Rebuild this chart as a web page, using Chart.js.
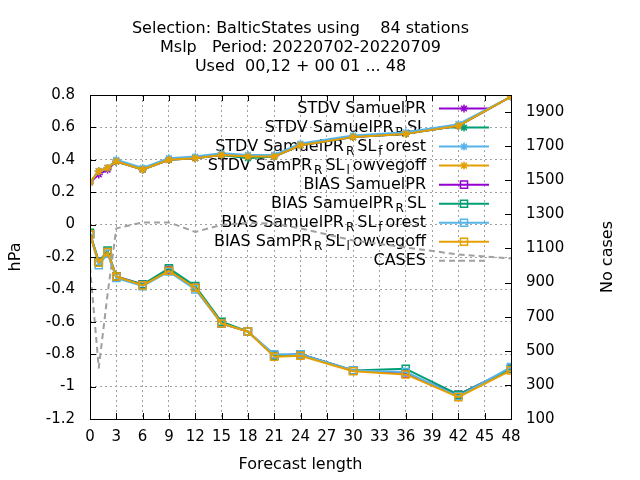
<!DOCTYPE html>
<html>
<head>
<meta charset="utf-8">
<title>Mslp BalticStates</title>
<script src="https://cdn.jsdelivr.net/npm/chart.js@4.4.1/dist/chart.umd.min.js"></script>
<style>
  html, body { margin: 0; padding: 0; background: #fff; }
  canvas { display: block; }
</style>
</head>
<body>
<canvas id="chart" width="640" height="480"></canvas>
<script>
// forecast lengths (hours)
const leadTimes = [0, 1, 2, 3, 6, 9, 12, 15, 18, 21, 24, 30, 36, 42, 48];

// STDV (hPa)
const stdvSamuel       = [0.26, 0.31, 0.34, 0.39, 0.34, 0.40, 0.41, 0.43, 0.42, 0.42, 0.49, 0.54, 0.56, 0.61, 0.79];
const stdvSamuelRsl    = [0.26, 0.33, 0.35, 0.39, 0.34, 0.40, 0.41, 0.43, 0.41, 0.42, 0.49, 0.54, 0.56, 0.61, 0.79];
const stdvSamuelForest = [0.26, 0.33, 0.35, 0.40, 0.35, 0.41, 0.42, 0.44, 0.43, 0.43, 0.50, 0.55, 0.57, 0.62, 0.79];
const stdvSamLowveg    = [0.26, 0.33, 0.35, 0.39, 0.34, 0.40, 0.41, 0.43, 0.42, 0.42, 0.49, 0.54, 0.56, 0.61, 0.79];

// BIAS (hPa)
const biasSamuel       = [-0.06, -0.23, -0.17, -0.32, -0.37, -0.28, -0.39, -0.61, -0.66, -0.81, -0.80, -0.90, -0.92, -1.05, -0.89];
const biasSamuelRsl    = [-0.05, -0.23, -0.16, -0.32, -0.37, -0.27, -0.38, -0.60, -0.66, -0.81, -0.80, -0.90, -0.89, -1.05, -0.89];
const biasSamuelForest = [-0.06, -0.25, -0.18, -0.33, -0.38, -0.29, -0.40, -0.61, -0.66, -0.80, -0.80, -0.90, -0.91, -1.06, -0.88];
const biasSamLowveg    = [-0.06, -0.235, -0.17, -0.32, -0.375, -0.285, -0.39, -0.61, -0.66, -0.815, -0.81, -0.905, -0.925, -1.065, -0.90];

// number of cases (right axis)
const cases = [990, 400, 830, 1218, 1253, 1253, 1197, 1238, 1250, 1245, 1218, 1147, 1106, 1065, 1041];

// tick values
const xTickValues = [0, 3, 6, 9, 12, 15, 18, 21, 24, 27, 30, 33, 36, 39, 42, 45, 48];
const leftTickValues = [-1.2, -1, -0.8, -0.6, -0.4, -0.2, 0, 0.2, 0.4, 0.6, 0.8];
const rightTickValues = [100, 300, 500, 700, 900, 1100, 1300, 1500, 1700, 1900];

const titleLines = [
  'Selection: BalticStates using    84 stations',
  'Mslp   Period: 20220702-20220709',
  'Used  00,12 + 00 01 ... 48'
];

const FONT = 'DejaVu Sans';
const PURPLE = '#9400d3', GREEN = '#009e73', BLUE = '#56b4e9', ORANGE = '#e69f00', GREY = '#a0a0a0';

// label text uses gnuplot style subscripts: _{x}
const series = [
  { label: 'STDV SamuelPR',                values: stdvSamuel,       color: PURPLE, style: 'star' },
  { label: 'STDV SamuelPR_{R}SL',          values: stdvSamuelRsl,    color: GREEN,  style: 'star' },
  { label: 'STDV SamuelPR_{R}SL_{f}orest', values: stdvSamuelForest, color: BLUE,   style: 'star' },
  { label: 'STDV SamPR_{R}SL_{l}owvegoff', values: stdvSamLowveg,    color: ORANGE, style: 'star' },
  { label: 'BIAS SamuelPR',                values: biasSamuel,       color: PURPLE, style: 'rect' },
  { label: 'BIAS SamuelPR_{R}SL',          values: biasSamuelRsl,    color: GREEN,  style: 'rect' },
  { label: 'BIAS SamuelPR_{R}SL_{f}orest', values: biasSamuelForest, color: BLUE,   style: 'rect' },
  { label: 'BIAS SamPR_{R}SL_{l}owvegoff', values: biasSamLowveg,    color: ORANGE, style: 'rect' },
  { label: 'CASES',                        values: cases,            color: GREY,   style: false, axis: 'y1', dash: [6, 4] }
];

function pointRadius(style) {
  if (style === 'star') return 4;
  if (style === 'rect') return 5;
  return 0;
}

const datasets = series.map((s, i) => ({
  label: s.label.replace(/_\{([^}]*)\}/g, '$1'),
  data: leadTimes.map((h, j) => ({ x: h, y: s.values[j] })),
  yAxisID: s.axis || 'y',
  borderColor: s.color,
  borderWidth: 2,
  borderDash: s.dash || [],
  borderJoinStyle: 'round',
  pointStyle: s.style,
  pointRadius: pointRadius(s.style),
  pointBorderColor: s.color,
  pointBackgroundColor: 'rgba(0,0,0,0)',
  pointBorderWidth: 1.5,
  tension: 0,
  order: series.length - i   // gnuplot draws later plots on top
}));

function fmtLeft(v) {
  const r = Math.round(v * 10) / 10;
  return r === 0 ? '0' : String(r);
}

// legend drawn like gnuplot's key, text right-aligned inside the plot
function drawLabel(ctx, text, xRight, baseline) {
  const parts = text.split(/_\{([^}]*)\}/);
  const mainFont = '16px "' + FONT + '"';
  const subFont = '12px "' + FONT + '"';
  const pieces = [];
  let total = 0;
  parts.forEach((p, k) => {
    if (!p) return;
    const isSub = k % 2 === 1;
    ctx.font = isSub ? subFont : mainFont;
    const w = ctx.measureText(p).width;
    const gapBefore = isSub ? 2 : 0;
    const gapAfter = isSub ? 3 : 0;
    pieces.push({ p, isSub, w, gapBefore });
    total += w + gapBefore + gapAfter;
  });
  let x = xRight - total;
  ctx.textAlign = 'left';
  ctx.textBaseline = 'alphabetic';
  ctx.fillStyle = '#000';
  pieces.forEach(pc => {
    x += pc.gapBefore;
    ctx.font = pc.isSub ? subFont : mainFont;
    ctx.fillText(pc.p, x, baseline + (pc.isSub ? 4 : 0));
    x += pc.w + (pc.isSub ? 3 : 0);
  });
}

const gnuplotLook = {
  id: 'gnuplotLook',
  beforeDatasetsDraw(chart) {
    const ctx = chart.ctx;
    ctx.save();
    series.forEach((s, i) => {
      const base = 113 + i * 19.04;
      const yLine = base - 4.5;
      drawLabel(ctx, s.label, 426, base);
      ctx.strokeStyle = s.color;
      ctx.lineWidth = 2;
      ctx.setLineDash(s.dash || []);
      ctx.beginPath();
      ctx.moveTo(439, yLine);
      ctx.lineTo(489, yLine);
      ctx.stroke();
      ctx.setLineDash([]);
      if (s.style) {
        ctx.fillStyle = 'rgba(0,0,0,0)';
        ctx.lineWidth = 1.5;
        Chart.helpers.drawPoint(ctx, { pointStyle: s.style, radius: pointRadius(s.style), borderWidth: 1.5, rotation: 0 }, 464, yLine);
      }
    });
    ctx.restore();
  },
  afterDraw(chart) {
    const ctx = chart.ctx;
    const a = chart.chartArea;
    const xs = chart.scales.x, ys = chart.scales.y, y1 = chart.scales.y1;
    ctx.save();
    // title
    ctx.fillStyle = '#000';
    ctx.font = '16px "' + FONT + '"';
    ctx.textAlign = 'center';
    ctx.textBaseline = 'alphabetic';
    const cx = (a.left + a.right) / 2;
    titleLines.forEach((t, i) => ctx.fillText(t, cx, 33 + i * 18.8));
    // right axis title, reads bottom to top
    ctx.save();
    ctx.translate(608, (a.top + a.bottom) / 2);
    ctx.rotate(-Math.PI / 2);
    ctx.textBaseline = 'middle';
    ctx.fillText('No cases', 0, 0);
    ctx.restore();
    // frame
    ctx.strokeStyle = '#000';
    ctx.lineWidth = 1;
    ctx.strokeRect(Math.round(a.left) + 0.5, Math.round(a.top) + 0.5, Math.round(a.right - a.left), Math.round(a.bottom - a.top));
    // inward tick marks
    const tl = 6;
    ctx.beginPath();
    xTickValues.forEach(v => {
      const px = Math.round(xs.getPixelForValue(v)) + 0.5;
      ctx.moveTo(px, a.bottom); ctx.lineTo(px, a.bottom - tl);
      ctx.moveTo(px, a.top); ctx.lineTo(px, a.top + tl);
    });
    leftTickValues.forEach(v => {
      const py = Math.round(ys.getPixelForValue(v)) + 0.5;
      ctx.moveTo(a.left, py); ctx.lineTo(a.left + tl, py);
    });
    rightTickValues.forEach(v => {
      const py = Math.round(y1.getPixelForValue(v)) + 0.5;
      ctx.moveTo(a.right, py); ctx.lineTo(a.right - tl, py);
    });
    ctx.stroke();
    ctx.restore();
  }
};

const tickFont = { family: FONT, size: 15 };
const labelFont = { family: FONT, size: 16 };

new Chart(document.getElementById('chart').getContext('2d'), {
  type: 'line',
  data: { datasets },
  options: {
    responsive: false,
    animation: false,
    devicePixelRatio: 1,
    layout: { padding: { top: 95, left: 0, right: 0, bottom: 0 } },
    plugins: {
      legend: { display: false },
      title: { display: false },
      tooltip: { enabled: false }
    },
    scales: {
      x: {
        type: 'linear',
        min: 0,
        max: 48,
        afterBuildTicks: s => { s.ticks = xTickValues.map(v => ({ value: v })); },
        afterFit: s => { s.height = 61; },
        ticks: { color: '#000', font: tickFont, padding: 9, maxRotation: 0, autoSkip: false },
        grid: { color: GREY, lineWidth: 1, drawTicks: false },
        border: { display: false, dash: [2, 3] },
        title: { display: true, text: 'Forecast length', color: '#000', font: labelFont, padding: { top: 0, bottom: 6 } }
      },
      y: {
        position: 'left',
        min: -1.2,
        max: 0.8,
        afterBuildTicks: s => { s.ticks = leftTickValues.map(v => ({ value: v })); },
        afterFit: s => { s.width = 90; },
        ticks: { color: '#000', font: tickFont, padding: 15, callback: v => fmtLeft(v) },
        grid: { color: GREY, lineWidth: 1, drawTicks: false },
        border: { display: false, dash: [2, 3] },
        title: { display: true, text: 'hPa', color: '#000', font: labelFont, padding: { top: 6, bottom: 0 } }
      },
      y1: {
        position: 'right',
        min: 100,
        max: 2000,
        afterBuildTicks: s => { s.ticks = rightTickValues.map(v => ({ value: v })); },
        afterFit: s => { s.width = 129; },
        ticks: { color: '#000', font: tickFont, padding: 15, callback: v => String(v) },
        grid: { display: false, drawTicks: false },
        border: { display: false }
      }
    }
  },
  plugins: [gnuplotLook]
});
</script>
</body>
</html>
